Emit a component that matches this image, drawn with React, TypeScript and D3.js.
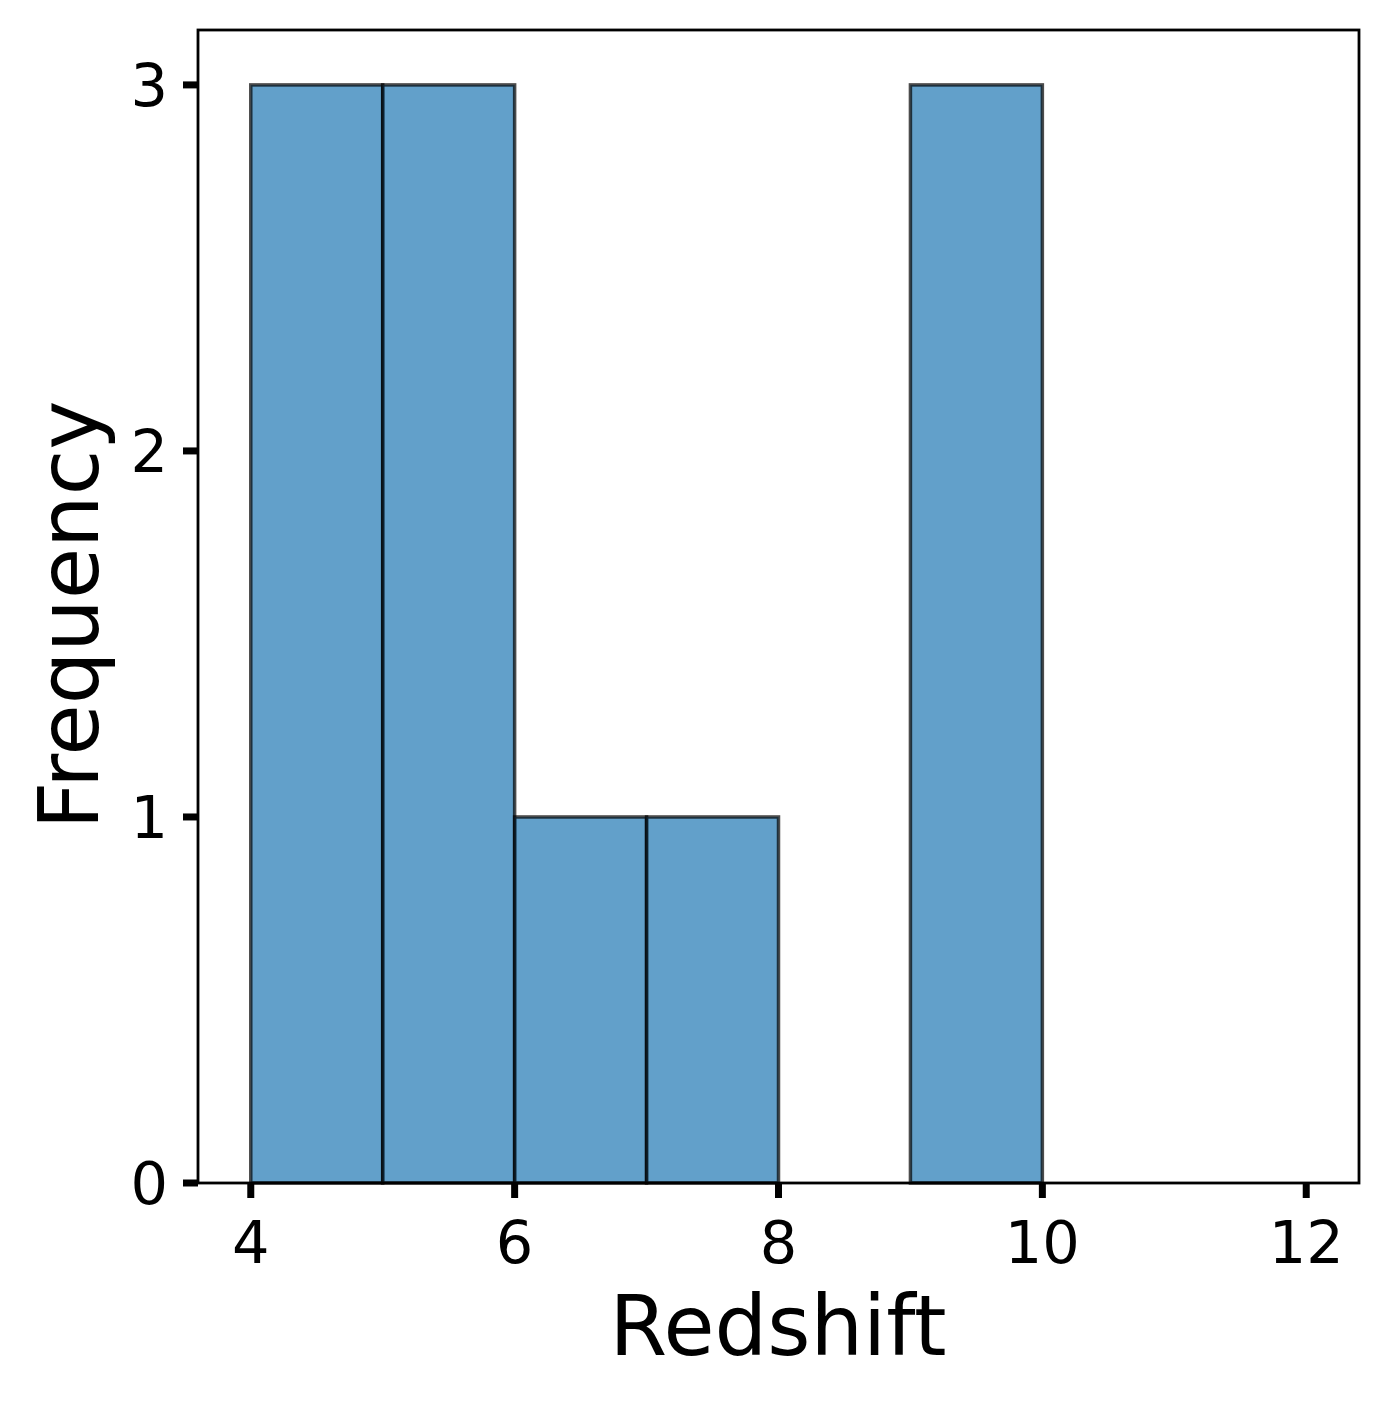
import React, { useEffect, useRef } from "react"
import * as d3 from "d3"

// histogram bins (left edges) and counts
const binStarts = [4, 5, 6, 7, 8, 9, 10, 11]
const binWidth = 1
const counts = [3, 3, 1, 1, 0, 3, 0, 0]
const xTicks = [4, 6, 8, 10, 12]
const yTicks = [0, 1, 2, 3]

export default function App() {
  const ref = useRef<SVGSVGElement>(null)

  useEffect(() => {
    const svg = d3.select(ref.current)
    svg.selectAll("*").remove()

    const left = 198, right = 1359, top = 30, bottom = 1183
    const x = d3.scaleLinear().domain([3.6, 12.4]).range([left, right])
    const y = d3.scaleLinear().domain([0, 3.15]).range([bottom, top])

    // bars
    svg
      .append("g")
      .selectAll("rect")
      .data(binStarts.map((s, i) => ({ s, c: counts[i] })).filter(d => d.c > 0))
      .enter()
      .append("rect")
      .attr("x", d => x(d.s))
      .attr("y", d => y(d.c))
      .attr("width", d => x(d.s + binWidth) - x(d.s))
      .attr("height", d => y(0) - y(d.c))
      .attr("fill", "#1f77b4")
      .attr("fill-opacity", 0.7)
      .attr("stroke", "black")
      .attr("stroke-opacity", 0.7)
      .attr("stroke-width", 3.5)

    // frame
    svg
      .append("rect")
      .attr("x", left)
      .attr("y", top)
      .attr("width", right - left)
      .attr("height", bottom - top)
      .attr("fill", "none")
      .attr("stroke", "black")
      .attr("stroke-width", 2.8)

    const font = "DejaVu Sans, sans-serif"

    // x ticks
    const xg = svg.append("g")
    xTicks.forEach(t => {
      xg.append("line")
        .attr("x1", x(t)).attr("x2", x(t))
        .attr("y1", bottom).attr("y2", bottom + 15)
        .attr("stroke", "black").attr("stroke-width", 7)
      xg.append("text")
        .attr("x", x(t)).attr("y", bottom + 80)
        .attr("text-anchor", "middle")
        .attr("font-family", font).attr("font-size", 59)
        .text(t)
    })

    // y ticks
    const yg = svg.append("g")
    yTicks.forEach(t => {
      yg.append("line")
        .attr("x1", left - 15).attr("x2", left)
        .attr("y1", y(t)).attr("y2", y(t))
        .attr("stroke", "black").attr("stroke-width", 7)
      yg.append("text")
        .attr("x", left - 30).attr("y", y(t))
        .attr("dy", "0.36em")
        .attr("text-anchor", "end")
        .attr("font-family", font).attr("font-size", 59)
        .text(t)
    })

    svg.append("text")
      .attr("x", 778).attr("y", 1355)
      .attr("text-anchor", "middle")
      .attr("font-family", font).attr("font-size", 83)
      .text("Redshift")

    svg.append("text")
      .attr("transform", `translate(98, 615) rotate(-90)`)
      .attr("text-anchor", "middle")
      .attr("font-family", font).attr("font-size", 83)
      .text("Frequency")
  })

  return (
    <svg
      ref={ref}
      width={1389}
      height={1401}
      style={{ position: "absolute", left: 0, top: 0, background: "white" }}
    />
  )
}
